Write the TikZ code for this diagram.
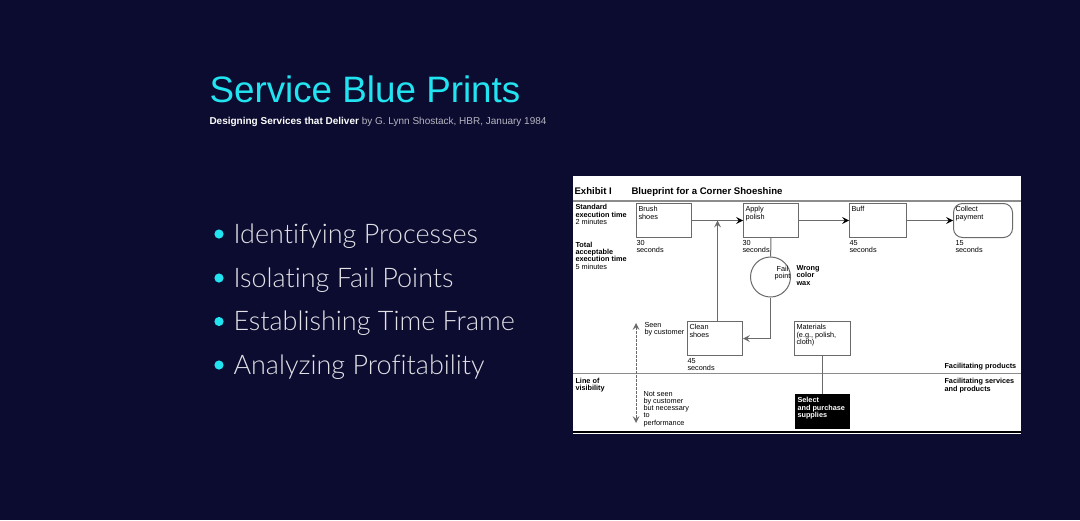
\documentclass[tikz,border=0pt]{standalone}
\usepackage{fontspec}
\setmainfont{Liberation Sans}
\newfontfamily\thinfont{Lato Light}[Ligatures=NoCommon]
\usetikzlibrary{arrows}
\usepackage{xcolor}
\definecolor{bg}{HTML}{0C0B30}
\definecolor{cy}{HTML}{22E3F0}
\definecolor{gr}{HTML}{6A6A6A}
\definecolor{ln}{HTML}{8C8C8C}

\begin{document}
\begin{tikzpicture}[
      x = 0.5pt, y = -0.5pt, % one unit is one pixel of the slide
      > = stealth, % arrow head style
      line width = 0.5pt,
    ]

    \tikzstyle{stepbox}=[
      draw = gr,
      minimum width = 27.5pt,
      minimum height = 17pt,
      inner sep = 0pt,
      anchor = north west
    ]
    \tikzstyle{small}=[font=\fontsize{3.65}{3.65}\selectfont, inner sep=0pt, anchor=north west, align=left]
    \tikzstyle{boxtext}=[small, anchor=north west, xshift=1pt, yshift=-1.5pt]
    \tikzstyle{bullet}=[font=\thinfont\fontsize{13.5}{13.5}\selectfont, text=white!88!bg, anchor=base west, inner sep=0pt]
    \tikzstyle{dot}=[circle, fill=cy, inner sep=0pt, minimum size=4.6pt]

    % slide
    \fill[bg] (0,0) rectangle (1080,520);

    \node[anchor=base west, inner sep=0pt, text=cy, font=\fontsize{18.4}{18.4}\selectfont] (title) [at={(209,102.3)}] {Service Blue Prints};
    \node[anchor=base west, inner sep=0pt, font=\fontsize{5}{5}\selectfont] (sub) [at={(209,124)}] {\textcolor{white}{\bfseries Designing Services that Deliver} \textcolor{white!70!bg}{by G. Lynn Shostack, HBR, January 1984}};

    \node[dot] (d1) [at={(219,234)}] {};
    \node[dot] (d2) [at={(219,278)}] {};
    \node[dot] (d3) [at={(219,321.5)}] {};
    \node[dot] (d4) [at={(219,365)}] {};
    \node[bullet] (b1) [at={(233,243.5)}] {Identifying Processes};
    \node[bullet] (b2) [at={(233,287.2)}] {Isolating Fail Points};
    \node[bullet] (b3) [at={(233,330.9)}] {Establishing Time Frame};
    \node[bullet] (b4) [at={(233,374.6)}] {Analyzing Profitability};

    % exhibit
    \fill[white] (572.5,176) rectangle (1021,434);
    \draw[line width=1pt] (572.5,432) -- (1021,432);
    \draw[ln, line width=0.6pt] (572.5,201) -- (1021,201);
    \draw[ln, line width=0.6pt] (572.5,373.5) -- (1021,373.5);

    \node[anchor=base west, inner sep=0pt, font=\bfseries\fontsize{4.8}{4.8}\selectfont] (exhibit) [at={(574,194.3)}] {Exhibit I};
    \node[anchor=base west, inner sep=0pt, font=\bfseries\fontsize{4.8}{4.8}\selectfont] (head) [at={(631,194.3)}] {Blueprint for a Corner Shoeshine};

    \node[small] (standard) [at={(575,204)}] {\bfseries Standard\\\bfseries execution time\\2 minutes};
    \node[small] (total) [at={(575,241.5)}] {\bfseries Total\\\bfseries acceptable\\\bfseries execution time\\5 minutes};
    \node[small] (visib) [at={(575,377.5)}] {\bfseries Line of\\\bfseries visibility};

    \node[stepbox, label={[boxtext]north west:Brush\\shoes}] (brush) [at={(636,203)}] {};
    \node[stepbox, label={[boxtext]north west:Apply\\polish}] (apply) [at={(743,203)}] {};
    \node[stepbox, minimum width=28.5pt, label={[boxtext]north west:Buff}] (buff) [at={(849,203)}] {};
    \node[stepbox, minimum width=29.5pt, rounded corners=4.5pt, label={[boxtext]north west:Collect\\payment}] (collect) [at={(953,203)}] {};
    \node[stepbox, label={[boxtext]north west:Clean\\shoes}] (clean) [at={(687,321)}] {};
    \node[stepbox, minimum width=28pt, label={[boxtext]north west:Materials\\(e.g., polish,\\cloth)}] (materials) [at={(794,321)}] {};
    \node[stepbox, draw=black, fill=black, minimum width=27pt, label={[boxtext, text=white, font=\bfseries\fontsize{3.65}{3.65}\selectfont]north west:Select\\and purchase\\supplies}] (select) [at={(795,394)}] {};

    \node[circle, draw=gr, minimum size=20pt, inner sep=0pt, label={[small, anchor=center, align=center, xshift=6pt, yshift=1.8pt]center:Fail\\point}] (fail) [at={(770.5,277)}] {};

    \node[small] (t1) [at={(636,240)}] {30\\seconds};
    \node[small] (t2) [at={(742,240)}] {30\\seconds};
    \node[small] (t3) [at={(849,240)}] {45\\seconds};
    \node[small] (t4) [at={(955,240)}] {15\\seconds};
    \node[small] (t5) [at={(687,357.5)}] {45\\seconds};

    \node[small, font=\bfseries\fontsize{3.65}{3.65}\selectfont] (wrong) [at={(796,265)}] {Wrong\\color\\wax};
    \node[small] (seen) [at={(644,321.5)}] {Seen\\by customer};
    \node[small] (notseen) [at={(643,390.5)}] {Not seen\\by customer\\but necessary\\to\\performance};
    \node[small, font=\bfseries\fontsize{3.65}{3.65}\selectfont] (fprod) [at={(944,363)}] {Facilitating products};
    \node[small, font=\bfseries\fontsize{3.65}{3.65}\selectfont] (fserv) [at={(944,378)}] {Facilitating services\\and products};

    \coordinate (seentop) at (636,323);
    \coordinate (seenbot) at (636,423);

    \path[->, draw=gr] (brush) edge (apply);
    \path[->, draw=gr] (apply) edge (buff);
    \path[->, draw=gr] (buff) edge (collect);
    \draw[gr] (apply) -- (fail);
    \draw[->, gr] (fail.south) |- (clean.east);
    \draw[->, gr] ([xshift=1.25pt]clean.north) -- ([xshift=1.25pt]clean.north |- brush.east);
    \draw[gr] (materials) -- (select);
    \draw[<->, dash pattern=on 1.2pt off 0.8pt, gr] (seentop) -- (seenbot);

  \end{tikzpicture}
\end{document}
